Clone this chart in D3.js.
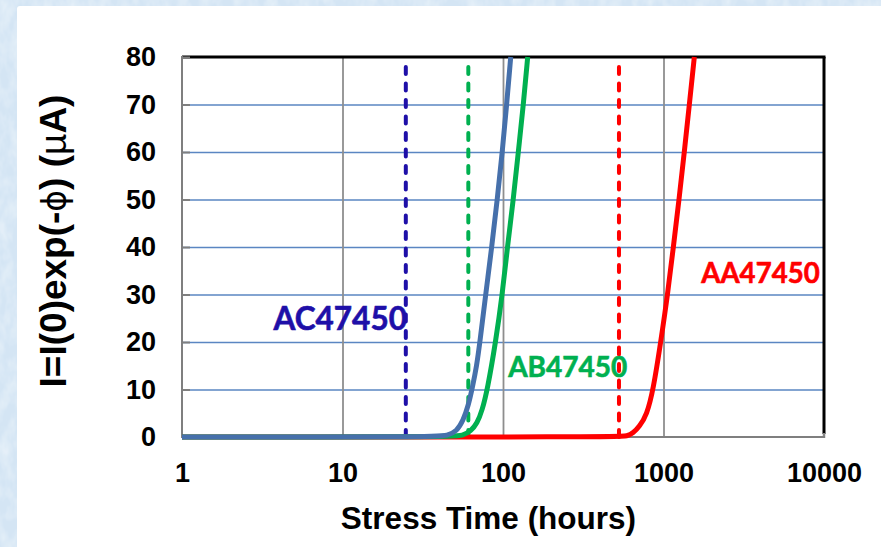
<!DOCTYPE html>
<html>
<head>
<meta charset="utf-8">
<script src="https://cdn.jsdelivr.net/npm/d3@7/dist/d3.min.js"></script>
<style>
  html, body { margin: 0; padding: 0; background: #d6e6f4; }
  svg { display: block; }
</style>
</head>
<body>
<svg id="chart" width="881" height="547"></svg>
<script>
// Leakage current vs. stress time for three devices (log time axis)
const xTicks = [1, 10, 100, 1000, 10000];
const yTicks = [0, 10, 20, 30, 40, 50, 60, 70, 80];

// [hours, µA] samples of each current curve
const seriesAC = [[1,0],[38,0],[45,0.3],[51.5,1.2],[56.5,3.5],[60.8,6.6],[64.5,10.5],[68.6,15],[71.8,20],[78,30],[85.1,40],[92.1,50],[99,60],[105.4,70],[111.7,80]];
const seriesAB = [[1,0],[48,0],[56,0.3],[63,1.2],[69,2.9],[74,5.5],[80,10],[90,20],[99,30],[106.5,40],[116,50],[124.5,60],[134,70],[142.5,80]];
const seriesAA = [[1,0],[520,0],[595,0.2],[646,0.8],[707,2.2],[786,4.6],[864,10],[961,20],[1061,30],[1152,40],[1250,50],[1348,60],[1449,70],[1556,80]];

// failure-time markers (hours)
const markerAC = 24.8;
const markerAB = 60.8;
const markerAA = 528;

const names = ["AC47450", "AB47450", "AA47450"];

const svg = d3.select("#chart");
const W = 881, H = 547;
const m = { left: 182, right: 824, top: 57, bottom: 437 };

// textured light-blue backdrop
const defs = svg.append("defs");
const f = defs.append("filter").attr("id", "mottle").attr("x", 0).attr("y", 0).attr("width", "100%").attr("height", "100%");
f.append("feTurbulence").attr("type", "fractalNoise").attr("baseFrequency", "0.09 0.05").attr("numOctaves", 3).attr("seed", 4).attr("result", "n");
f.append("feColorMatrix").attr("in", "n").attr("type", "matrix")
  .attr("values", "0 0 0 0 0.80  0 0 0 0 0.88  0 0 0 0 0.95  0 0 0 -1.6 1.05").attr("result", "c");
f.append("feComposite").attr("in", "c").attr("in2", "SourceGraphic").attr("operator", "over");
svg.append("rect").attr("width", W).attr("height", H).attr("fill", "#d4e5f4").attr("filter", "url(#mottle)");

// white panel
svg.append("rect").attr("x", 17).attr("y", 6).attr("width", W).attr("height", H).attr("rx", 3).attr("fill", "#ffffff");

const x = d3.scaleLog().domain([1, 10000]).range([m.left, m.right]);
const y = d3.scaleLinear().domain([0, 80]).range([m.bottom, m.top]);

// horizontal grid
svg.append("g").attr("transform", `translate(${m.left},0)`)
  .call(d3.axisLeft(y).tickValues(yTicks.slice(1, -1)).tickSize(-(m.right - m.left)).tickFormat(""))
  .call(g => g.select(".domain").remove())
  .call(g => g.selectAll("line").attr("stroke", "#5a86c2").attr("stroke-width", 1.6));

// vertical grid
svg.append("g").attr("transform", `translate(0,${m.bottom})`)
  .call(d3.axisBottom(x).tickValues(xTicks.slice(1, -1)).tickSize(-(m.bottom - m.top)).tickFormat(""))
  .call(g => g.select(".domain").remove())
  .call(g => g.selectAll("line").attr("stroke", "#8e8e8e").attr("stroke-width", 1.8));

// plot frame: black top/right, gray axes left/bottom
svg.append("line").attr("x1", m.left).attr("x2", m.right + 1.5).attr("y1", m.top).attr("y2", m.top).attr("stroke", "#000").attr("stroke-width", 3);
svg.append("line").attr("x1", m.right).attr("x2", m.right).attr("y1", m.top).attr("y2", m.bottom - 3).attr("stroke", "#000").attr("stroke-width", 3);
svg.append("line").attr("x1", m.right).attr("x2", m.right).attr("y1", m.bottom - 4).attr("y2", m.bottom + 1).attr("stroke", "#888").attr("stroke-width", 2.5);
svg.append("line").attr("x1", m.left).attr("x2", m.right + 1).attr("y1", m.bottom).attr("y2", m.bottom).attr("stroke", "#7f7f7f").attr("stroke-width", 2);
svg.append("line").attr("x1", m.left).attr("x2", m.left).attr("y1", m.top - 1).attr("y2", m.bottom + 1).attr("stroke", "#7f7f7f").attr("stroke-width", 2);

// inner y ticks
svg.append("g").attr("transform", `translate(${m.left},0)`)
  .call(d3.axisRight(y).tickValues(yTicks).tickSize(8).tickFormat(""))
  .call(g => g.select(".domain").remove())
  .call(g => g.selectAll("line").attr("stroke", "#7f7f7f").attr("stroke-width", 2));

// tick labels
const tickFont = "'Liberation Sans', Arial, sans-serif";
svg.append("g").attr("transform", `translate(${m.left},0)`)
  .call(d3.axisLeft(y).tickValues(yTicks).tickSize(0).tickPadding(26).tickFormat(d3.format("d")))
  .call(g => g.select(".domain").remove())
  .call(g => g.selectAll("text").attr("font-family", tickFont).attr("font-weight", 700).attr("font-size", 27).attr("fill", "#000"));

svg.append("g").attr("transform", `translate(0,${m.bottom})`)
  .call(d3.axisBottom(x).tickValues(xTicks).tickSize(0).tickPadding(26).tickFormat(d3.format("d")))
  .call(g => g.select(".domain").remove())
  .call(g => g.selectAll("text").attr("font-family", tickFont).attr("font-weight", 700).attr("font-size", 27).attr("fill", "#000"));

// axis titles
svg.append("text").attr("x", 488.5).attr("y", 529).attr("text-anchor", "middle")
  .attr("font-family", tickFont).attr("font-weight", 700).attr("font-size", 31.5).attr("fill", "#000")
  .text("Stress Time (hours)");

const yt = svg.append("text").attr("transform", "translate(66,241) rotate(-90)").attr("text-anchor", "middle")
  .attr("font-family", tickFont).attr("font-weight", 700).attr("font-size", 37).attr("fill", "#000");
yt.append("tspan").text("I=I(0)exp(-");
yt.append("tspan").attr("font-weight", 400).attr("font-family", "'DejaVu Sans', sans-serif").attr("font-size", 33).text("\u03D5");
yt.append("tspan").text(") (");
yt.append("tspan").attr("font-weight", 400).text("\u00B5");
yt.append("tspan").text("A)");

// dashed failure markers
const markers = [
  { t: markerAC, c: "#1e0fa8" },
  { t: markerAB, c: "#00b050" },
  { t: markerAA, c: "#ff0000" }
];
svg.append("g").selectAll("line").data(markers).join("line")
  .attr("x1", d => x(d.t)).attr("x2", d => x(d.t))
  .attr("y1", y(0)).attr("y2", y(79))
  .attr("stroke", d => d.c).attr("stroke-width", 4)
  .attr("stroke-dasharray", "7 9.5").attr("stroke-linecap", "round");

// current curves
const line = d3.line().x(d => x(d[0])).y(d => y(d[1])).curve(d3.curveBasis);
const curves = [
  { d: seriesAA, c: "#ff0000" },
  { d: seriesAB, c: "#00b050" },
  { d: seriesAC, c: "#4670ab" }
];
svg.append("g").selectAll("path").data(curves).join("path")
  .attr("d", d => line(d.d)).attr("fill", "none")
  .attr("stroke", d => d.c).attr("stroke-width", 5).attr("stroke-linejoin", "round");

// device labels
const labFont = "Lato, 'Open Sans', sans-serif";
const labels = [
  { name: names[0], t: 25.2, v: 22.5, anchor: "end", c: "#1e0fa8", s: 31.5 },
  { name: names[1], t: 107.7, v: 12.6, anchor: "start", c: "#00b050", s: 28 },
  { name: names[2], t: 1720, v: 32.4, anchor: "start", c: "#ff0000", s: 27.6 }
];
svg.append("g").selectAll("text").data(labels).join("text")
  .attr("x", d => x(d.t)).attr("y", d => y(d.v)).attr("text-anchor", d => d.anchor)
  .attr("font-family", labFont).attr("font-weight", 700).attr("font-size", d => d.s)
  .attr("fill", d => d.c).attr("stroke", d => d.c).attr("stroke-width", 0.6)
  .text(d => d.name);
</script>
</body>
</html>
